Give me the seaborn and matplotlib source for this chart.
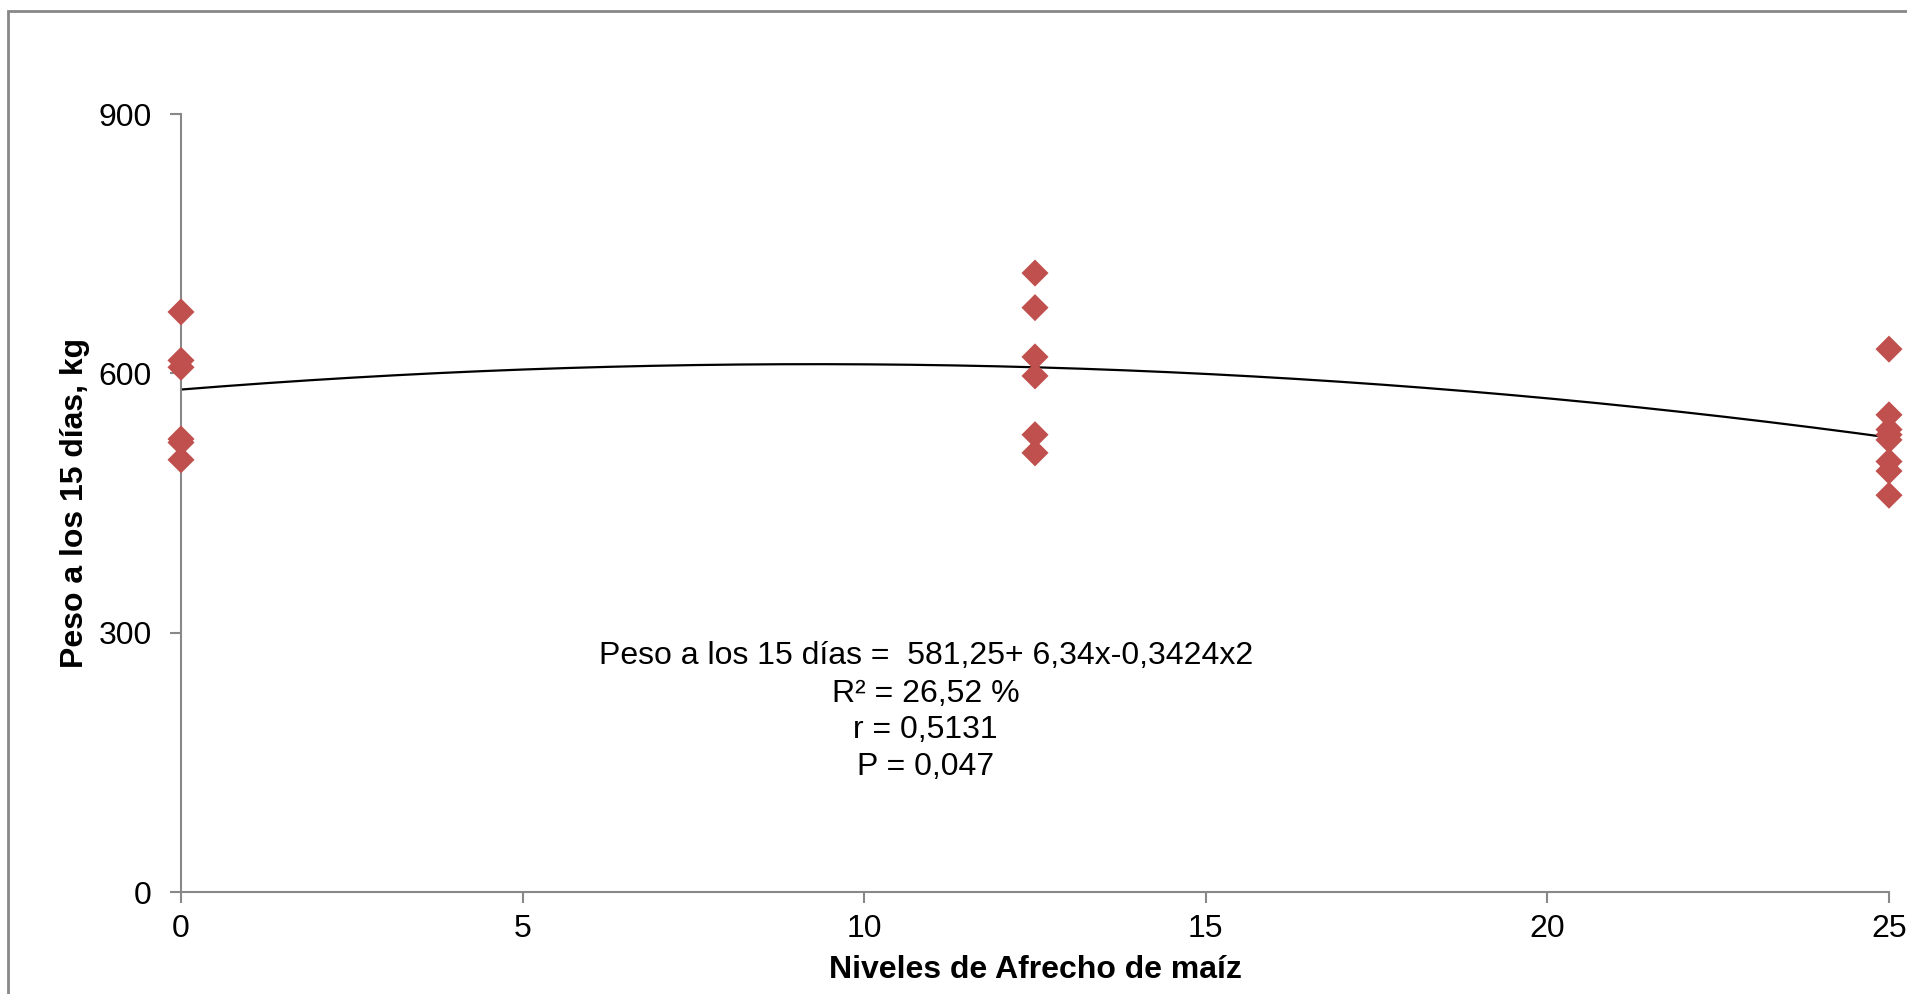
import numpy as np
import pandas as pd
import matplotlib
matplotlib.use("Agg")
import matplotlib.pyplot as plt
import seaborn as sns

# Data
niveles_0 = [671, 615, 607, 524, 520, 500]
niveles_12_5 = [716, 676, 619, 597, 529, 508]
niveles_25 = [628, 552, 535, 529, 523, 498, 487, 459]
levels = [0, 12.5, 25]
coef = [581.25, 6.34, -0.3424]  # fitted quadratic shown in the chart
x_ticks = [0, 5, 10, 15, 20, 25]
y_ticks = [0, 300, 600, 900]
eq_lines = ["Peso a los 15 días =  581,25+ 6,34x-0,3424x2",
            "R² = 26,52 %",
            "r = 0,5131",
            "P = 0,047"]

rows = []
for lv, vals in zip(levels, [niveles_0, niveles_12_5, niveles_25]):
    for v in vals:
        rows.append({"x": lv, "y": v})
df = pd.DataFrame(rows)

xs = np.linspace(0, 25, 200)
fit = pd.DataFrame({"x": xs, "y": coef[0] + coef[1] * xs + coef[2] * xs ** 2})

sns.set_theme(style="white")
plt.rcParams['font.family'] = ['Liberation Sans', 'DejaVu Sans']
plt.rcParams['text.color'] = 'black'
plt.rcParams['axes.labelcolor'] = 'black'
plt.rcParams['xtick.color'] = 'black'
plt.rcParams['ytick.color'] = 'black'

fig = plt.figure(figsize=(19.08, 9.94), dpi=100)
ax = fig.add_axes([181 / 1908, 1 - 892 / 994, (1889 - 181) / 1908, (892 - 114) / 994])

sns.lineplot(data=fit, x="x", y="y", ax=ax, color="black", linewidth=1.6, zorder=2)
sns.scatterplot(data=df, x="x", y="y", ax=ax, marker="D", s=190, color="#C0504D",
                edgecolor="none", zorder=3, clip_on=False)

ax.set_xlim(0, 25)
ax.set_ylim(0, 900)
ax.set_xticks(x_ticks)
ax.set_yticks(y_ticks)
ax.tick_params(axis="both", labelsize=23, length=8, width=1.5, color="#888888",
               labelcolor="black", direction="out", pad=8, left=True, bottom=True)
ax.tick_params(axis="y", pad=13)
for s in ["top", "right"]:
    ax.spines[s].set_visible(False)
for s in ["left", "bottom"]:
    ax.spines[s].set_color("#888888")
    ax.spines[s].set_linewidth(1.5)

ax.set_xlabel("Niveles de Afrecho de maíz", fontsize=23, fontweight="bold", labelpad=8,
              color="black")
ax.set_ylabel("Peso a los 15 días, kg", fontsize=23, fontweight="bold", labelpad=6,
              color="black")

for line, yy in zip(eq_lines, [0.3033, 0.2545, 0.2082, 0.1607]):
    ax.text(0.436, yy, line, transform=ax.transAxes, ha="center", va="center",
            fontsize=23, color="black")

# outer chart border
fig.patches.append(plt.Rectangle((8 / 1908, -0.05), 1.1, 1 - 11 / 994 + 0.05,
                                 transform=fig.transFigure, fill=False,
                                 edgecolor="#888888", linewidth=2))

fig.savefig("out.png", dpi=100)
